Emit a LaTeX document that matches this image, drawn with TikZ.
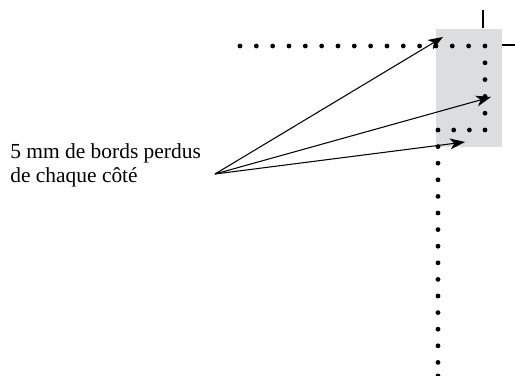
\documentclass[tikz,border=0pt]{standalone}
\usepackage{fontspec}
\setmainfont{Liberation Serif}
\usepackage{tikz}
\usetikzlibrary{positioning,arrows.meta}
\definecolor{bleedgray}{RGB}{220,221,222}

\begin{document}
\begin{tikzpicture}[
  x=0.02cm, y=-0.02cm, font=\fontsize{12.2}{13.6}\selectfont,
  >={Stealth[length=8.5pt, width=6.2pt, inset=2.4pt]},
  arr/.style={->, line width=0.6pt},
  crop/.style={line width=1.2pt},
  dot/.style={fill=black},
]
\useasboundingbox (0,0) rectangle (515,376);

% zone de fond perdu
\fill[bleedgray] (436,29) rectangle (502,147);

% traits de coupe
\draw[crop] (483,10) -- (483,28);
\draw[crop] (502,45) -- (515,45);

% pointilles
\foreach \i in {0,...,15}
  \fill[dot] ({240+\i*16.33},46) circle (2.4);
\foreach \i in {1,...,5}
  \fill[dot] (485,{46+\i*16.8}) circle (2.4);
\foreach \i in {0,...,2}
  \fill[dot] ({438+\i*15.7},130) circle (2.4);
\foreach \i in {1,...,14}
  \fill[dot] (438,{130+\i*16.6}) circle (2.4);
\fill[dot] (438,376) circle (2.4);

% legende
\node[anchor=west, align=left, inner sep=0pt] (bleed) at (10,165)
  {5 mm de bords perdus\\de chaque côté};

\coordinate (src) at (215,174);
\coordinate (tipA) at (443,37);
\coordinate (tipB) at (491,97);
\coordinate (tipC) at (465,142);

\draw[arr] (src) -- (tipA);
\draw[arr] (src) -- (tipB);
\draw[arr] (src) -- (tipC);
\end{tikzpicture}
\end{document}
